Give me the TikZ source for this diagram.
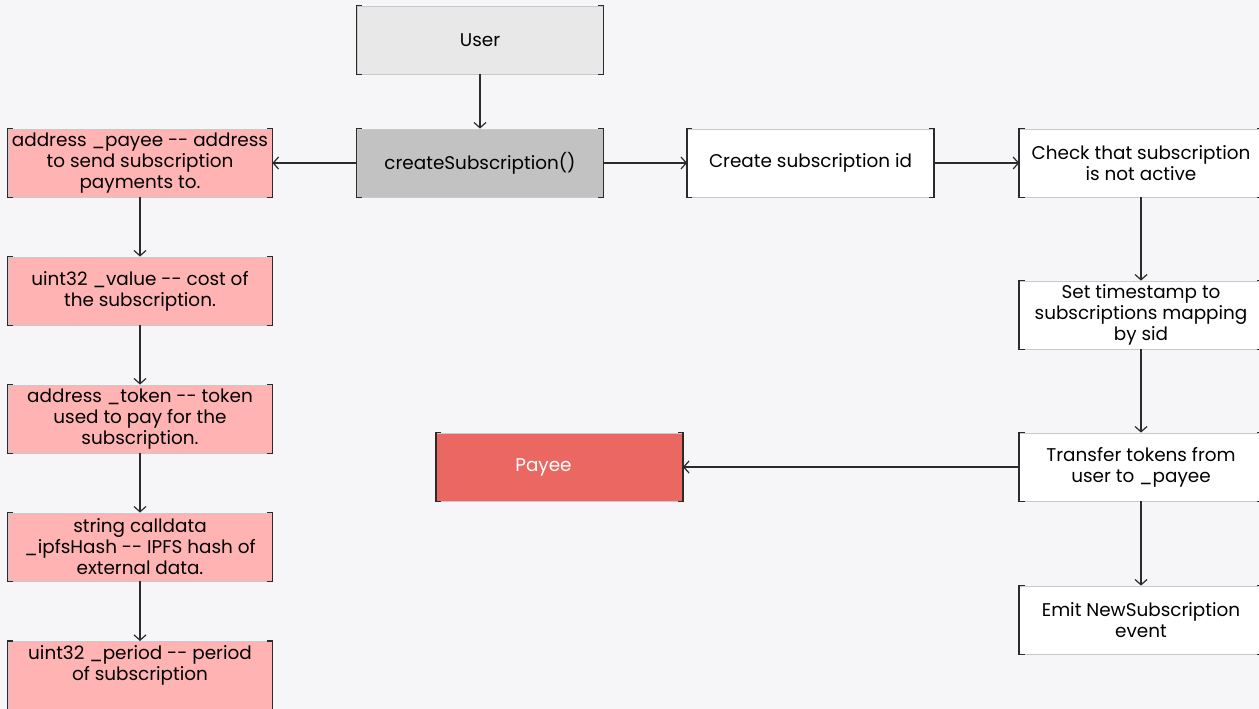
\documentclass[tikz,border=0pt]{standalone}
\usepackage{fontspec}
\setmainfont{Poppins}[Ligatures=TeXOff]
\usetikzlibrary{arrows.meta}

\definecolor{bg}{HTML}{F6F6F8}
\definecolor{ink}{HTML}{2B2B2B}
\definecolor{rim}{HTML}{C9C9CC}
\definecolor{usergrey}{HTML}{E8E8E9}
\definecolor{callgrey}{HTML}{C2C2C2}
\definecolor{parampink}{HTML}{FFB3B3}
\definecolor{payeered}{HTML}{EB6862}

\tikzstyle{box}=[rectangle, draw=rim, line width=0.6pt, minimum width=184.5pt, minimum height=51pt, align=center, inner sep=2pt, font=\fontsize{13.8}{15.75}\selectfont]
\tikzstyle{user}=[fill=usergrey]
\tikzstyle{call}=[fill=callgrey]
\tikzstyle{action}=[fill=white]
\tikzstyle{param}=[fill=parampink, minimum width=198pt]
\tikzstyle{payee}=[fill=payeered, text=white]
\tikzstyle{flow}=[draw=ink, line width=0.9pt, -{Straight Barb[length=4pt,width=9pt]}]
\tikzstyle{bracket}=[draw=ink, line width=1.2pt]

\begin{document}
\begin{tikzpicture}[x=0.75pt, y=-0.75pt]
  \useasboundingbox (0,0) rectangle (1259,709);
  \clip (0,0) rectangle (1259,709);
  \fill[bg] (0,0) rectangle (1259,709);

  %% Entry point
  \draw (480,40) node[box, user] (U) {User};
  \draw (480,163) node[box, call] (C) {createSubscription()};

  %% Parameters
  \draw (140,163) node[box, param] (P1) {address \_payee -- address\\to send subscription\\payments to.};
  \draw (140,291) node[box, param] (P2) {uint32 \_value -- cost of\\the subscription.};
  \draw (140,419) node[box, param] (P3) {address \_token -- token\\used to pay for the\\subscription.};
  \draw (140,547) node[box, param] (P4) {string calldata\\\_ipfsHash -- IPFS hash of\\external data.};
  \draw (140,641) node[box, param, anchor=north, minimum height=0pt, inner ysep=3pt, text depth=40pt] (P5) {uint32 \_period -- period\\of subscription};

  %% Steps
  \draw (810.5,163) node[box, action] (S1) {Create subscription id};
  \draw (1141,163) node[box, action, minimum width=182pt] (S2) {Check that subscription\\is not active};
  \draw (1141,315) node[box, action, minimum width=182pt] (S3) {Set timestamp to\\subscriptions mapping\\by sid};
  \draw (1141,467) node[box, action, minimum width=182pt] (S4) {Transfer tokens from\\user to \_payee};
  \draw (1141,620) node[box, action, minimum width=182pt] (S5) {Emit NewSubscription\\event};
  \draw (559.5,467) node[box, payee] (R) {Payee\hspace{24pt}};

  %% Corner brackets
  \foreach \n in {U,C,P1,P2,P3,P4,P5,S1,S2,S3,S4,S5,R} {
    \draw[bracket] ([xshift=4pt]\n.north west) -- (\n.north west) -- (\n.south west) -- ([xshift=4pt]\n.south west);
    \draw[bracket] ([xshift=-4pt]\n.north east) -- (\n.north east) -- (\n.south east) -- ([xshift=-4pt]\n.south east);
  }

  %% Connectors
  \draw[flow] (U) -- (C);
  \draw[flow] (C) -- (P1);
  \draw[flow] (C) -- (S1);
  \draw[flow] (S1) -- (S2);
  \draw[flow] (S2) -- (S3);
  \draw[flow] (S3) -- (S4);
  \draw[flow] (S4) -- (R);
  \draw[flow] (S4) -- (S5);

  \draw[flow] (P1) -- (P2);
  \draw[flow] (P2) -- (P3);
  \draw[flow] (P3) -- (P4);
  \draw[flow] (P4) -- (P5);
\end{tikzpicture}
\end{document}
